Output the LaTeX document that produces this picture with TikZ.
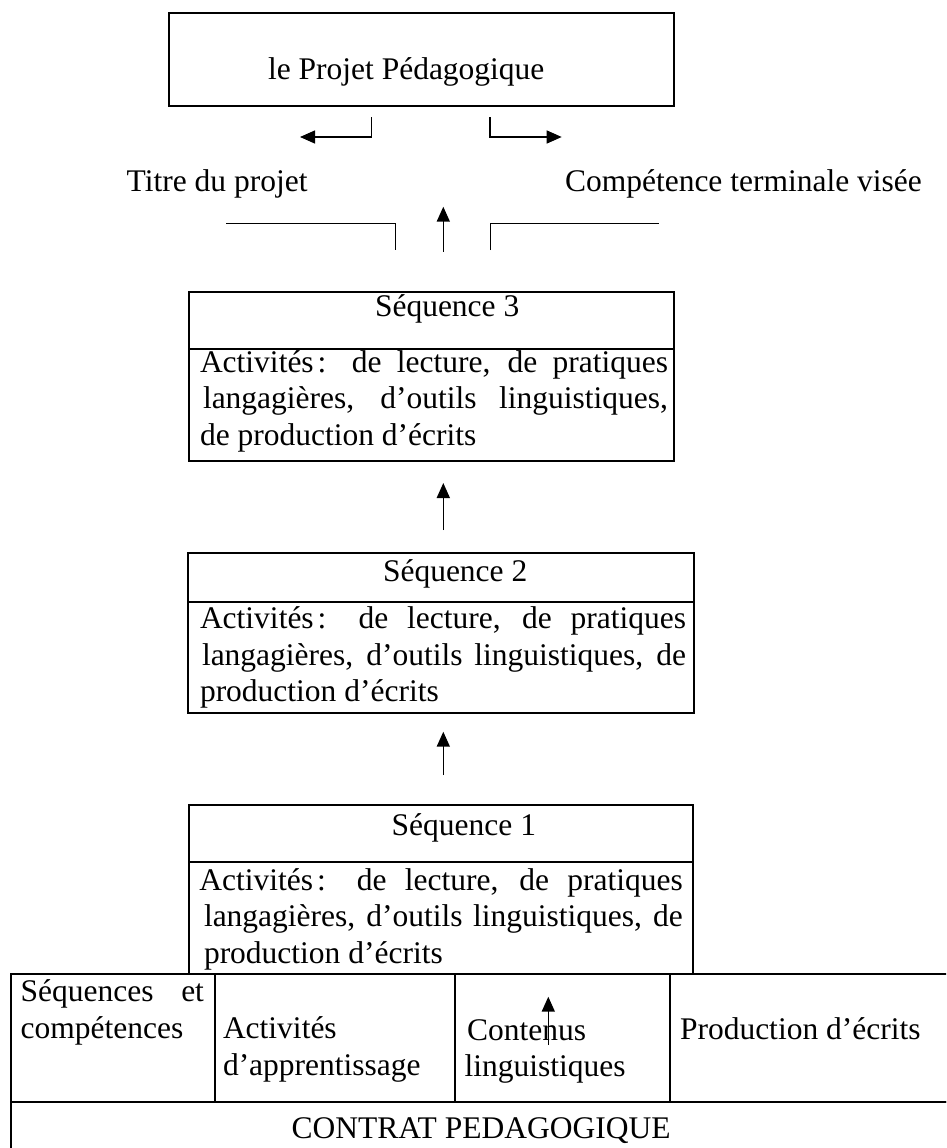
\documentclass[tikz,border=0pt]{standalone}
\usepackage{fontspec}
\setmainfont{Liberation Serif}
\usetikzlibrary{arrows.meta}
\begin{document}
\begin{tikzpicture}[x=1pt,y=-1pt,
  every node/.style={inner sep=0pt, outer sep=0pt},
  txt/.style={anchor=base west, font=\fontsize{31.5}{36.5}\selectfont},
  boxline/.style={draw, line width=2pt, anchor=north west},
  cellline/.style={draw, line width=1.6pt, anchor=north west},
  conn/.style={line width=1.3pt},
  tipped/.style={line width=1.6pt, -{Triangle[length=15pt,width=13pt]}},
]
\fill[white] (0,0) rectangle (946,1148);
\useasboundingbox (0,0) rectangle (946,1148);
\clip (0,0) rectangle (946,1148);

% top box
\node[boxline, minimum width=505pt, minimum height=93pt] (proj) at (169,13) {};
\node[txt] (projt) at (268,79) {le Projet Pédagogique};

\node[txt] (titre) at (126.7,191.7) {Titre du projet};
\node[txt] (comp) at (565,191.7) {Compétence terminale visée};

% elbow arrows
\coordinate (l1) at (371.7,117); \coordinate (l2) at (371.7,137); \coordinate (l3) at (300,137);
\draw[conn, -{Triangle[length=15pt,width=13pt]}] (l1) -- (l2) -- (l3);
\coordinate (r1) at (490,117); \coordinate (r2) at (490,137); \coordinate (r3) at (561.7,137);
\draw[conn, -{Triangle[length=15pt,width=13pt]}] (r1) -- (r2) -- (r3);

% bracket lines
\coordinate (b1) at (226,223.3); \coordinate (b2) at (395.8,223.3); \coordinate (b3) at (395.8,250);
\draw[conn] (b1) -- (b2) -- (b3);
\coordinate (c1a) at (490.5,250); \coordinate (c1b) at (490.5,223.3); \coordinate (c1c) at (658.7,223.3);
\draw[conn] (c1a) -- (c1b) -- (c1c);

% central arrows
\coordinate (a1s) at (443.3,251.7); \coordinate (a1e) at (443.3,206.7);
\draw[tipped] (a1s) -- (a1e);
\coordinate (a2s) at (443.3,530); \coordinate (a2e) at (443.3,483);
\draw[tipped] (a2s) -- (a2e);
\coordinate (a3s) at (443.3,775); \coordinate (a3e) at (443.3,731.7);
\draw[tipped] (a3s) -- (a3e);

% Sequence 3
\node[boxline, minimum width=485.5pt, minimum height=57pt] (s3h) at (188.5,292) {};
\node[boxline, minimum width=485.5pt, minimum height=112pt] (s3b) at (188.5,349) {};
\node[txt] (s3t) at (375,316.7) {Séquence 3};
\node[txt] (s3l1) at (200,372) {\makebox[468pt][s]{Activités\hspace{4pt}: de lecture, de pratiques}};
\node[txt] (s3l2) at (203,408.5) {\makebox[465pt][s]{langagières, d’outils linguistiques,}};
\node[txt] (s3l3) at (200,445) {de production d’écrits};

% Sequence 2
\node[boxline, minimum width=506pt, minimum height=48.5pt] (s2h) at (188,553) {};
\node[boxline, minimum width=506pt, minimum height=111pt] (s2b) at (188,601.5) {};
\node[txt] (s2t) at (383,581.7) {Séquence 2};
\node[txt] (s2l1) at (200,628.3) {\makebox[486pt][s]{Activités\hspace{4pt}: de lecture, de pratiques}};
\node[txt] (s2l2) at (202,665) {\makebox[484pt][s]{langagières, d’outils linguistiques, de}};
\node[txt] (s2l3) at (200,701.7) {production d’écrits};

% Sequence 1
\node[boxline, minimum width=504pt, minimum height=57pt] (s1h) at (189,805) {};
\node[boxline, minimum width=504pt, minimum height=112pt] (s1b) at (189,862) {};
\node[txt] (s1t) at (391.7,835) {Séquence 1};
\node[txt] (s1l1) at (199.3,890) {\makebox[483.4pt][s]{Activités\hspace{4pt}: de lecture, de pratiques}};
\node[txt] (s1l2) at (204,926.7) {\makebox[478.7pt][s]{langagières, d’outils linguistiques, de}};
\node[txt] (s1l3) at (204,963.3) {production d’écrits};

% table
\node[cellline, minimum width=204.3pt, minimum height=128pt] (t1) at (10.7,974) {};
\node[cellline, minimum width=240pt, minimum height=128pt] (t2) at (215,974) {};
\node[cellline, minimum width=215pt, minimum height=128pt] (t3) at (455,974) {};
\node[cellline, minimum width=300pt, minimum height=128pt] (t4) at (670,974) {};
\node[cellline, minimum width=960pt, minimum height=80pt] (tc) at (10.7,1102) {};

\node[txt] (t1a) at (20.7,1001.7) {\makebox[183.3pt][s]{Séquences et}};
\node[txt] (t1b) at (20.7,1038.5) {compétences};
\node[txt] (t2a) at (223,1038.5) {Activités};
\node[txt] (t2b) at (223,1075.5) {d’apprentissage};
\node[txt] (t3a) at (467,1040) {Contenus};
\node[txt] (t3b) at (464.5,1076) {linguistiques};
\node[txt] (t4a) at (680,1039) {Production d’écrits};
\node[txt] (tct) at (291.7,1138) {CONTRAT PEDAGOGIQUE};

\coordinate (a4s) at (548.3,1045); \coordinate (a4e) at (548.3,996.7);
\draw[tipped] (a4s) -- (a4e);
\end{tikzpicture}
\end{document}
